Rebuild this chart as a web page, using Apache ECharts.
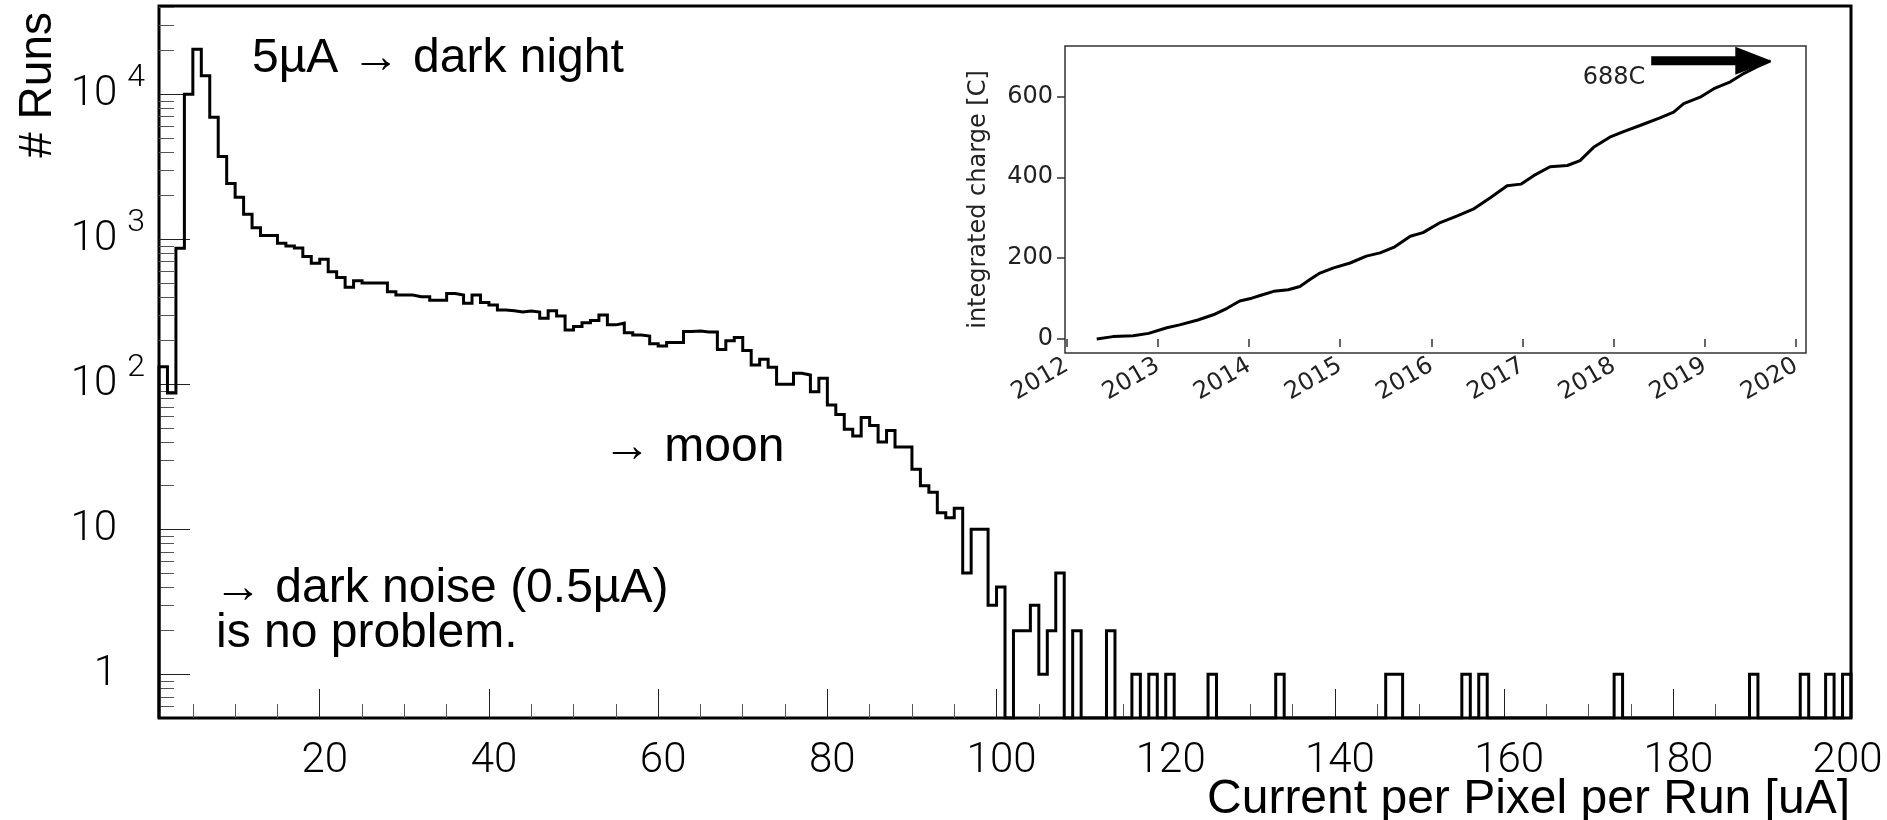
<!DOCTYPE html>
<html>
<head>
<meta charset="utf-8">
<script src="https://cdn.jsdelivr.net/npm/echarts@6/dist/echarts.min.js"></script>
<style>
  html, body { margin: 0; padding: 0; background: #fff; }
  #chart { width: 1887px; height: 820px; }
</style>
</head>
<body>
<div id="chart"></div>
<script>
// runs per 1 uA bin, first bin is [1, 2)
const binStart = 1;
const runCounts = [
  132, 87, 867, 10000, 20400, 13400, 6940, 3720, 2420, 1950,
  1490, 1200, 1060, 1060, 940, 900, 870, 760, 683, 728,
  598, 545, 467, 518, 500, 500, 500, 435, 413, 413,
  402, 402, 380, 380, 422, 413, 362, 413, 366, 352,
  325, 322, 315, 320, 315, 285, 322, 296, 237, 250,
  266, 275, 301, 257, 264, 227, 219, 215, 190, 184,
  194, 194, 231, 233, 229, 229, 174, 200, 210, 171,
  136, 149, 131, 100, 100, 119, 116, 89, 110, 72,
  62, 49, 44, 59, 52, 40, 48, 37, 37, 26,
  20, 18, 13, 12, 14, 5, 10, 10, 3, 4,
  0, 2, 2, 3, 1, 2, 5, 0, 2, 0,
  0, 0, 2, 0, 0, 1, 0, 1, 0, 1,
  0, 0, 0, 0, 1, 0, 0, 0, 0, 0,
  0, 0, 1, 0, 0, 0, 0, 0, 0, 0,
  0, 0, 0, 0, 0, 1, 1, 0, 0, 0,
  0, 0, 0, 0, 1, 0, 1, 0, 0, 0,
  0, 0, 0, 0, 0, 0, 0, 0, 0, 0,
  0, 0, 1, 0, 0, 0, 0, 0, 0, 0,
  0, 0, 0, 0, 0, 0, 0, 0, 1, 0,
  0, 0, 0, 0, 1, 0, 0, 1, 0, 1
];

const xMajorTicks = [20, 40, 60, 80, 100, 120, 140, 160, 180, 200];
const xMinorTicks = [5, 10, 15, 25, 30, 35, 45, 50, 55, 65, 70, 75, 85, 90, 95,
  105, 110, 115, 125, 130, 135, 145, 150, 155, 165, 170, 175, 185, 190, 195];
const yMajorTicks = [1, 10, 100, 1000, 10000];
const yMinorTicks = [0.6, 0.7, 0.8, 0.9, 2, 3, 4, 5, 6, 7, 8, 9,
  20, 30, 40, 50, 60, 70, 80, 90, 200, 300, 400, 500, 600, 700, 800, 900,
  2000, 3000, 4000, 5000, 6000, 7000, 8000, 9000, 20000, 30000, 40000];

// inset: integrated charge over time
const chargeDates = [
  '2012-05-01', '2012-07-05', '2012-09-24', '2012-11-25', '2013-02-06', '2013-03-29',
  '2013-06-10', '2013-08-11', '2013-10-05', '2013-11-25', '2014-01-12', '2014-02-21',
  '2014-04-10', '2014-06-07', '2014-07-24', '2014-09-02', '2014-10-12', '2014-12-06',
  '2015-02-10', '2015-04-16', '2015-06-10', '2015-08-08', '2015-10-09', '2015-11-29',
  '2016-02-06', '2016-04-12', '2016-06-17', '2016-08-26', '2016-10-31', '2016-12-25',
  '2017-02-14', '2017-04-21', '2017-06-29', '2017-08-19', '2017-10-12', '2017-12-16',
  '2018-02-09', '2018-04-16', '2018-07-05', '2018-08-29', '2018-10-08', '2018-12-13',
  '2019-02-06', '2019-04-13', '2019-06-07', '2019-07-28', '2019-09-21'
];
const chargeValues = [
  0, 6, 8, 14, 28, 35,
  47, 60, 76, 94, 101, 109,
  118, 122, 130, 147, 163, 176,
  188, 205, 213, 228, 254, 263,
  288, 304, 321, 350, 379, 383,
  404, 426, 429, 441, 474, 499,
  513, 528, 547, 561, 582, 598,
  619, 636, 657, 673, 688
];
const insetYearTicks = ['2012-01-01', '2013-01-01', '2014-01-01', '2015-01-01', '2016-01-01',
  '2017-01-01', '2018-01-01', '2019-01-01', '2020-01-01'];
const insetChargeTicks = [0, 200, 400, 600];
const arrowTail = ['2018-05-31', 688];
const arrowTip = ['2019-09-24', 688];

const ts = (d) => new Date(d + 'T00:00:00').getTime();

const yFloor = 0.5;   // empty bins are drawn down to the frame like ROOT does
const histPoints = [[binStart, yFloor]];
runCounts.forEach((c, i) => histPoints.push([binStart + i, c > 0 ? c : yFloor]));
const lastCount = runCounts[runCounts.length - 1];
histPoints.push([binStart + runCounts.length, lastCount > 0 ? lastCount : yFloor]);
histPoints.push([binStart + runCounts.length, yFloor]);

const chargePoints = chargeDates.map((d, i) => [ts(d), chargeValues[i]]);

const chart = echarts.init(document.getElementById('chart'), null, { renderer: 'canvas' });

const digitFont = 'Roboto';
const textFont = 'Liberation Sans';
const insetFont = 'DejaVu Sans';

const option = {
  animation: false,
  backgroundColor: '#fff',
  textStyle: { fontFamily: digitFont },
  grid: [
    { left: 159, top: 6, width: 1692, height: 712, show: true, borderColor: '#000', borderWidth: 3,
      backgroundColor: 'transparent', containLabel: false, outerBoundsMode: 'none' },
    { left: 1065, top: 46, width: 741, height: 307, show: true, borderColor: '#333', borderWidth: 1.5,
      backgroundColor: '#fff', containLabel: false, outerBoundsMode: 'none' }
  ],
  xAxis: [
    {
      type: 'value', gridIndex: 0, min: 1, max: 201, position: 'bottom',
      axisLine: { show: false }, splitLine: { show: false },
      axisTick: { show: true, inside: true, length: 29, customValues: xMajorTicks,
        lineStyle: { color: '#222', width: 1 } },
      axisLabel: { show: true, customValues: xMajorTicks, fontSize: 42, fontFamily: digitFont,
        fontWeight: 300, color: '#000', margin: 22, padding: [0, 0, 0, 10] }
    },
    {
      type: 'value', gridIndex: 0, min: 1, max: 201, position: 'bottom',
      axisLine: { show: false }, splitLine: { show: false },
      axisTick: { show: true, inside: true, length: 14, customValues: xMinorTicks,
        lineStyle: { color: '#555', width: 1 } },
      axisLabel: { show: false }
    },
    {
      type: 'value', gridIndex: 1, min: ts('2011-12-26'), max: ts('2020-02-10'), position: 'bottom',
      axisLine: { show: false }, splitLine: { show: false },
      axisTick: { show: true, inside: false, length: 8, customValues: insetYearTicks.map(ts),
        lineStyle: { color: '#333', width: 1.5 } },
      axisLabel: { show: true, customValues: insetYearTicks.map(ts), rotate: 30, fontSize: 24,
        fontFamily: insetFont, color: '#222', margin: 11,
        formatter: (v) => String(new Date(v).getFullYear()) }
    }
  ],
  yAxis: [
    {
      type: 'log', logBase: 10, gridIndex: 0, min: yFloor, max: 40600, position: 'left',
      axisLine: { show: false }, splitLine: { show: false },
      axisTick: { show: true, inside: true, length: 31, customValues: yMajorTicks,
        lineStyle: { color: '#222', width: 1 } },
      axisLabel: {
        show: true, customValues: yMajorTicks, margin: 14, color: '#000',
        formatter: (v) => {
          const e = Math.round(Math.log10(v));
          if (e === 0) return '{bp|1}';
          if (e === 1) return '{bp|10}';
          return '{b|10}{e|' + e + '}';
        },
        rich: {
          b: { fontSize: 42, fontFamily: digitFont, fontWeight: 300, color: '#000' },
          bp: { fontSize: 42, fontFamily: digitFont, fontWeight: 300, color: '#000', padding: [0, 28, 0, 0] },
          e: { fontSize: 32, fontFamily: digitFont, fontWeight: 300, color: '#000', padding: [0, 0, 32, 10] }
        }
      }
    },
    {
      type: 'log', logBase: 10, gridIndex: 0, min: yFloor, max: 40600, position: 'left',
      axisLine: { show: false }, splitLine: { show: false },
      axisTick: { show: true, inside: true, length: 15, customValues: yMinorTicks,
        lineStyle: { color: '#555', width: 1 } },
      axisLabel: { show: false }
    },
    {
      type: 'value', gridIndex: 1, min: -34.5, max: 724.5, position: 'left',
      axisLine: { show: false }, splitLine: { show: false },
      axisTick: { show: true, inside: false, length: 8, customValues: insetChargeTicks,
        lineStyle: { color: '#333', width: 1.5 } },
      axisLabel: { show: true, customValues: insetChargeTicks, fontSize: 24,
        fontFamily: insetFont, color: '#222', margin: 12 },
      name: 'integrated charge [C]', nameLocation: 'middle', nameGap: 74,
      nameTextStyle: { fontSize: 24, fontFamily: insetFont, color: '#222' }
    }
  ],
  series: [
    {
      type: 'line', xAxisIndex: 0, yAxisIndex: 0, data: histPoints, step: 'end',
      symbol: 'none', clip: true,
      lineStyle: { color: '#000', width: 3, join: 'miter' }
    },
    {
      type: 'line', xAxisIndex: 2, yAxisIndex: 2, data: chargePoints,
      symbol: 'none', clip: true,
      lineStyle: { color: '#000', width: 3 }
    }
  ]
};

chart.setOption(option);

// arrow annotation in the inset, placed from data coordinates
const insetFinder = { xAxisIndex: 2, yAxisIndex: 2 };
const tail = chart.convertToPixel(insetFinder, [ts(arrowTail[0]), arrowTail[1]]);
const tip = chart.convertToPixel(insetFinder, [ts(arrowTip[0]), arrowTip[1]]);
const headLen = 36, headHalf = 14, barHalf = 4.5;

chart.setOption({
  graphic: [
    { type: 'text', x: 38, y: 12, rotation: Math.PI / 2, z: 10,
      style: { text: '# Runs', fontSize: 46, fontFamily: textFont, fill: '#000',
        align: 'right', verticalAlign: 'middle' } },
    { type: 'text', x: 1850, y: 800, z: 10,
      style: { text: 'Current per Pixel per Run [uA]', fontSize: 48, fontFamily: textFont,
        fill: '#000', align: 'right', verticalAlign: 'middle' } },
    { type: 'text', x: 252, y: 59, z: 10,
      style: { text: '5µA \u2192 dark night', fontSize: 48, fontFamily: textFont, fill: '#000',
        align: 'left', verticalAlign: 'middle' } },
    { type: 'text', x: 603, y: 448, z: 10,
      style: { text: '\u2192 moon', fontSize: 48, fontFamily: textFont, fill: '#000',
        align: 'left', verticalAlign: 'middle' } },
    { type: 'text', x: 214, y: 589, z: 10,
      style: { text: '\u2192 dark noise (0.5µA)', fontSize: 48, fontFamily: textFont, fill: '#000',
        align: 'left', verticalAlign: 'middle' } },
    { type: 'text', x: 216, y: 634, z: 10,
      style: { text: 'is no problem.', fontSize: 48, fontFamily: textFont, fill: '#000',
        align: 'left', verticalAlign: 'middle' } },
    { type: 'polygon', z: 10,
      shape: { points: [
        [tail[0], tail[1] - barHalf], [tip[0] - headLen, tip[1] - barHalf],
        [tip[0] - headLen, tip[1] - headHalf], [tip[0], tip[1]],
        [tip[0] - headLen, tip[1] + headHalf], [tip[0] - headLen, tip[1] + barHalf],
        [tail[0], tail[1] + barHalf]
      ] },
      style: { fill: '#000' } },
    { type: 'text', x: tail[0] - 6, y: tail[1] + 17, z: 10,
      style: { text: '688C', fontSize: 24, fontFamily: insetFont, fill: '#222',
        align: 'right', verticalAlign: 'middle' } }
  ]
});
</script>
</body>
</html>
